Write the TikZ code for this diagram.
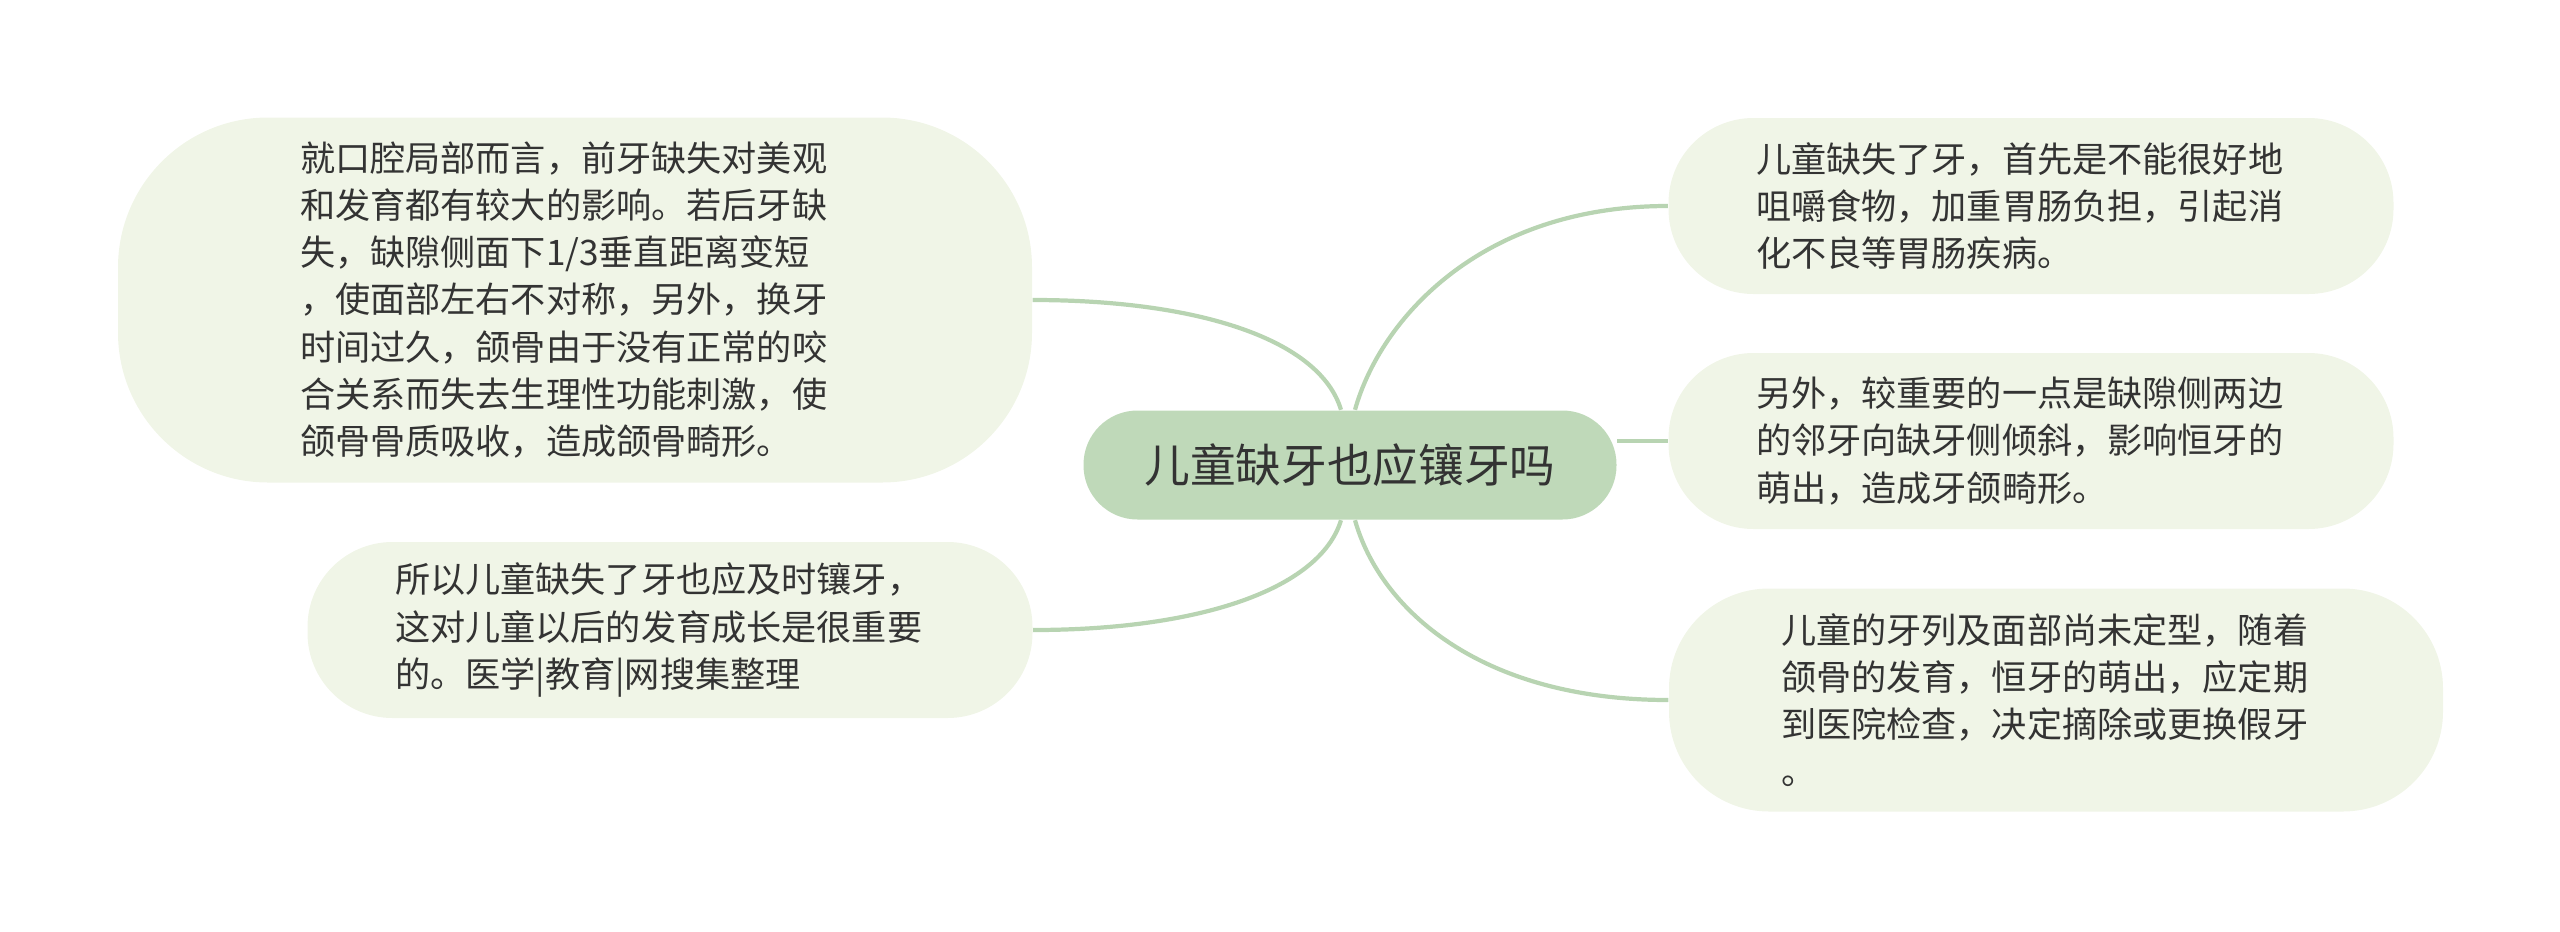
\documentclass[tikz,border=0pt]{standalone}
\usepackage{fontspec}
\newfontfamily\cjk{Noto Sans CJK SC}
\usetikzlibrary{backgrounds}

\definecolor{rootfill}{HTML}{BFD9B9}
\definecolor{leaffill}{HTML}{F0F5E7}
\definecolor{linkgreen}{HTML}{B8D4B2}
\definecolor{ink}{HTML}{333333}

\begin{document}
\begin{tikzpicture}[
	rootbox/.style = {fill = rootfill,
					  rounded corners = 0.54cm,
					  minimum width = 5.33cm,
					  minimum height = 1.09cm,
					  text = ink,
					  font = \cjk\fontsize{13pt}{16pt}\selectfont},
	leafbox/.style = {fill = leaffill,
					  text = ink,
					  align = left,
					  text width = 5.5cm,
					  inner sep = 0pt,
					  minimum width = 7.25cm,
					  minimum height = 1.76cm,
					  rounded corners = 0.85cm,
					  font = \cjk\fontsize{10pt}{13.4pt}\selectfont},
	branch/.style = {draw = linkgreen, line width = 1.2pt}
]

	\useasboundingbox (0,0) rectangle (25.6,9.31);

	\draw (13.50,4.66) node[rootbox] (root) {儿童缺牙也应镶牙吗};

	\draw (5.75,6.31) node[leafbox,
					 minimum width = 9.14cm,
					 minimum height = 3.65cm,
					 rounded corners = 1.5cm] (jaw) {就口腔局部而言，前牙缺失对美观\\和发育都有较大的影响。若后牙缺\\失，缺隙侧面下1/3垂直距离变短\\，使面部左右不对称，另外，换牙\\时间过久，颌骨由于没有正常的咬\\合关系而失去生理性功能刺激，使\\颌骨骨质吸收，造成颌骨畸形。};

	\draw (6.70,3.01) node[leafbox] (timely) {所以儿童缺失了牙也应及时镶牙，\\这对儿童以后的发育成长是很重要\\的。医学|教育|网搜集整理};

	\draw (20.31,7.25) node[leafbox] (chew) {儿童缺失了牙，首先是不能很好地\\咀嚼食物，加重胃肠负担，引起消\\化不良等胃肠疾病。};

	\draw (20.31,4.90) node[leafbox] (tilt) {另外，较重要的一点是缺隙侧两边\\的邻牙向缺牙侧倾斜，影响恒牙的\\萌出，造成牙颌畸形。};

	\draw (20.56,2.31) node[leafbox,
					 minimum width = 7.74cm,
					 minimum height = 2.23cm,
					 rounded corners = 1.0cm] (check) {儿童的牙列及面部尚未定型，随着\\颌骨的发育，恒牙的萌出，应定期\\到医院检查，决定摘除或更换假牙\\。};

	\begin{scope}[on background layer]
		\draw[branch] ([xshift=-0.09cm]root.north) ..
				controls (13.20,5.91) and (12.00,6.31) .. (jaw.east);
		\draw[branch] ([xshift=0.05cm]root.north) ..
				controls (13.80,6.11) and (14.80,7.25) .. (chew.west);
		\draw[branch] (root.east |- tilt.west) -- (tilt.west);
		\draw[branch] ([xshift=-0.09cm]root.south) ..
				controls (13.20,3.42) and (12.00,3.01) .. (timely.east);
		\draw[branch] ([xshift=0.05cm]root.south) ..
				controls (13.80,3.22) and (14.80,2.31) .. (check.west);
	\end{scope}
\end{tikzpicture}
\end{document}
